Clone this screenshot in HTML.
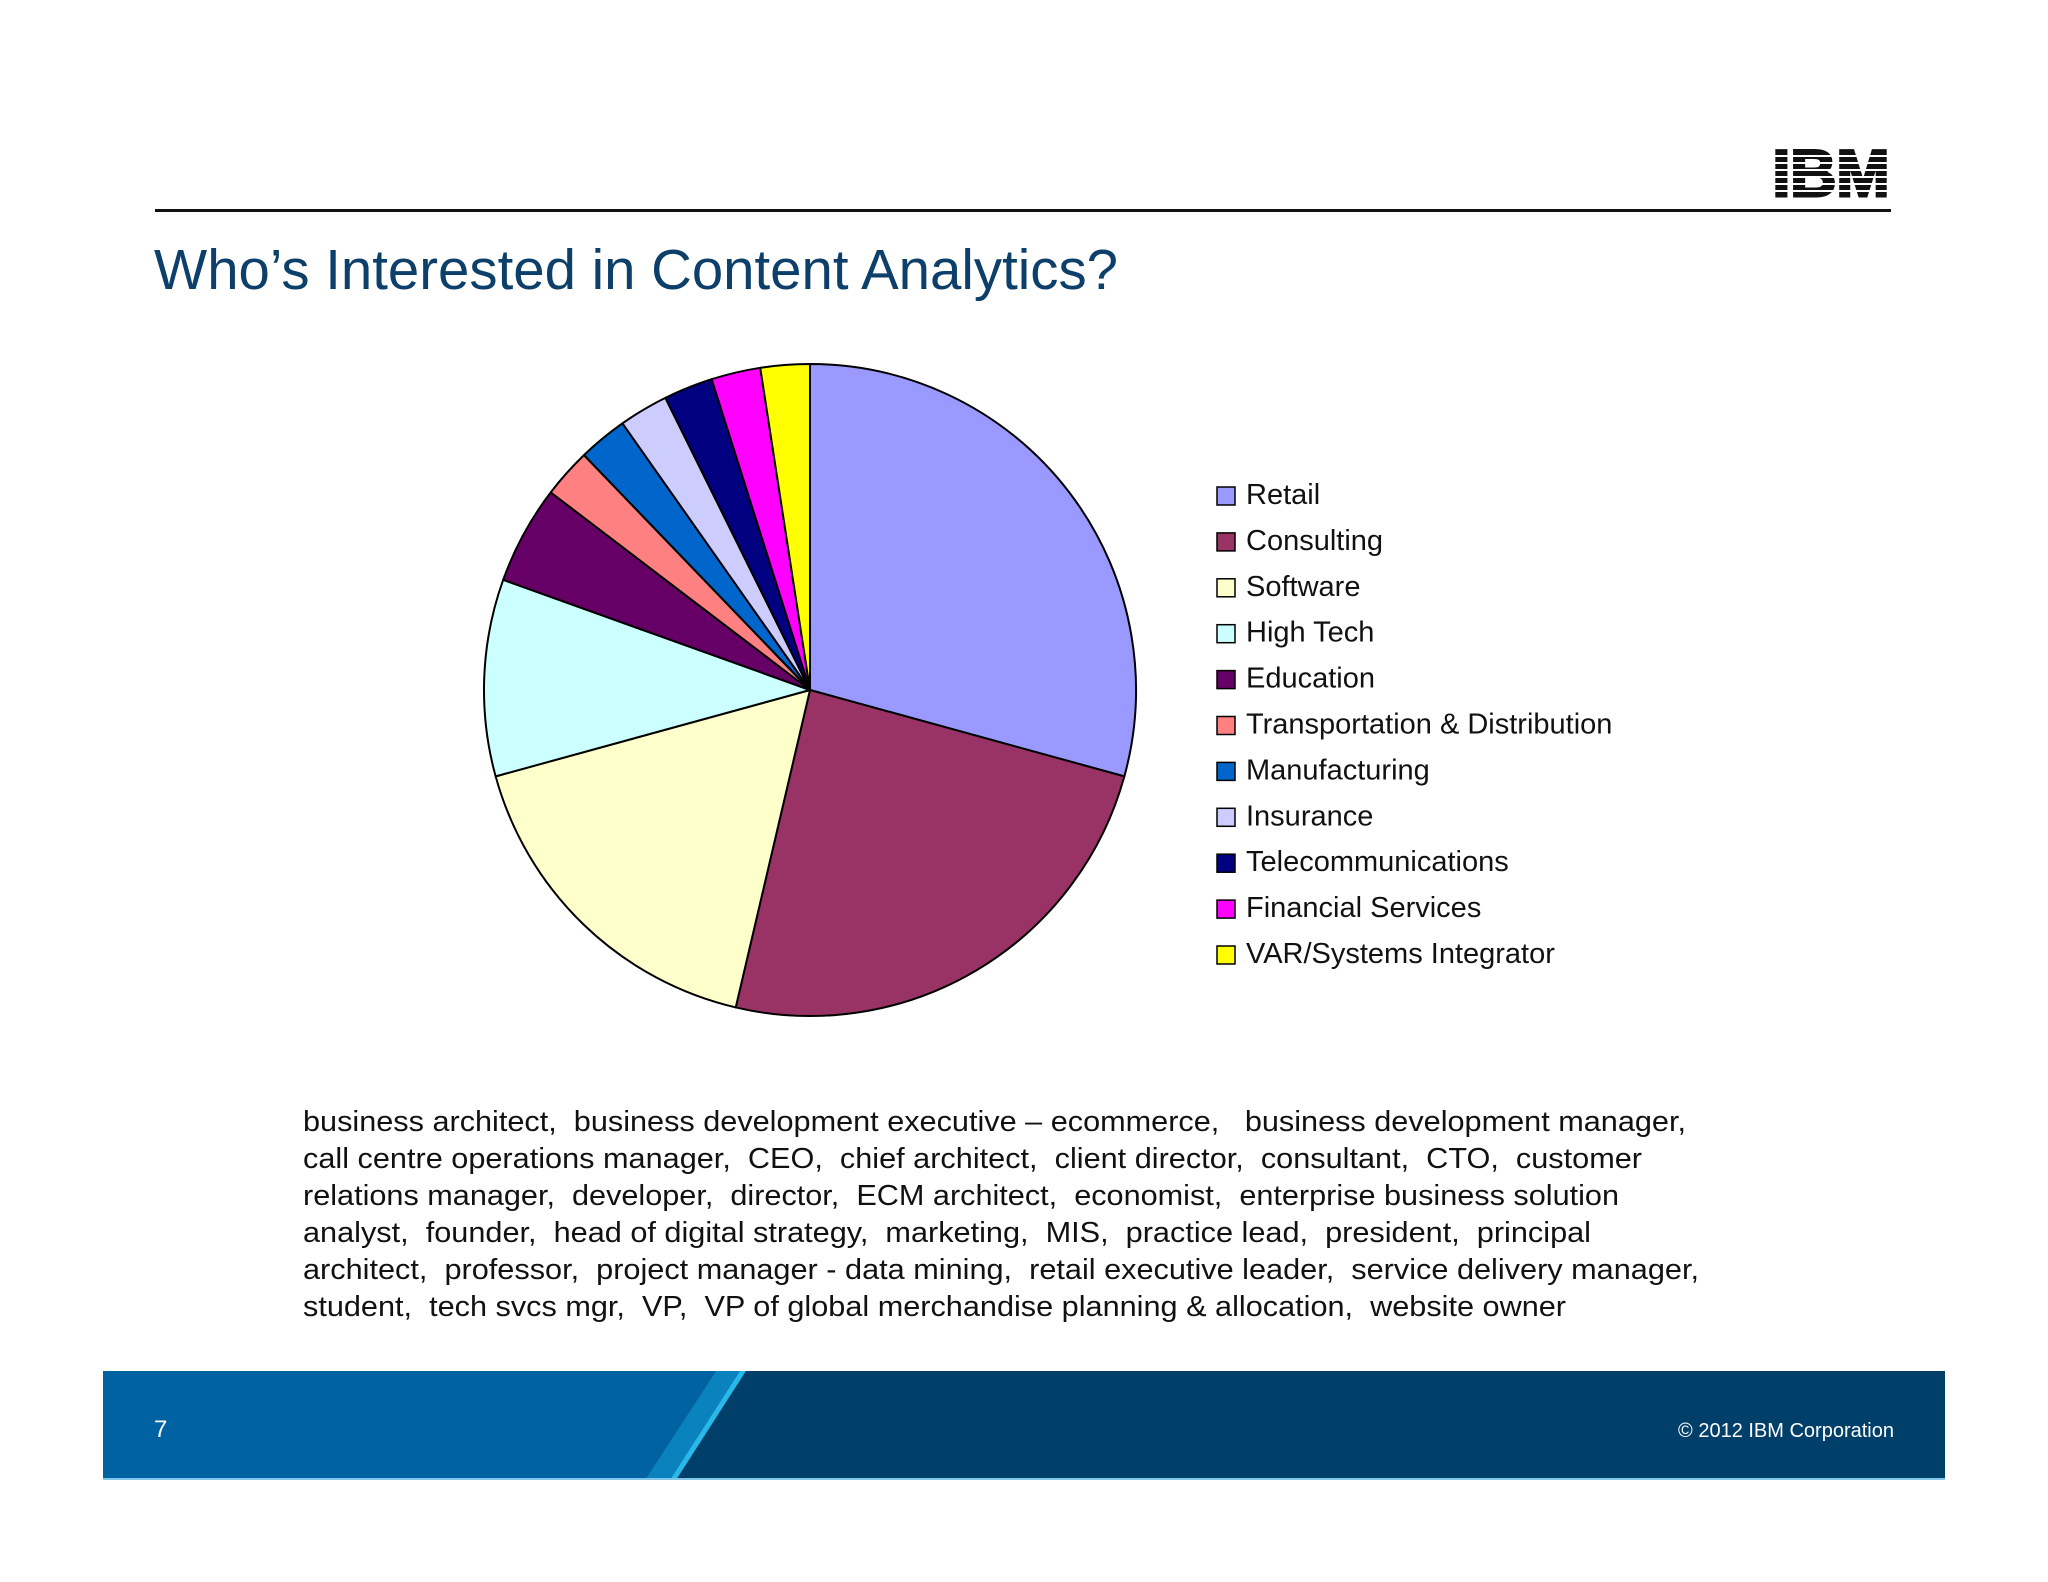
<!DOCTYPE html>
<html><head><meta charset="utf-8"><style>
html,body{margin:0;padding:0;background:#fff;}
svg{display:block;}
</style></head><body>
<svg width="2048" height="1582" viewBox="0 0 2048 1582" xmlns="http://www.w3.org/2000/svg" font-family="'Liberation Sans', Arial, sans-serif">
  <g>
    <text x="1831" y="196" font-size="66" font-weight="bold" text-anchor="middle" fill="#111" stroke="#111" stroke-width="3" textLength="117" lengthAdjust="spacingAndGlyphs">IBM</text>
    <g fill="#fff">
      <rect x="1765" y="155" width="135" height="2"/>
      <rect x="1765" y="162" width="135" height="2"/>
      <rect x="1765" y="169" width="135" height="2"/>
      <rect x="1765" y="176" width="135" height="2"/>
      <rect x="1765" y="183" width="135" height="2"/>
      <rect x="1765" y="190" width="135" height="2"/>
    </g>
  </g>
  <rect x="155" y="209" width="1736" height="3" fill="#111"/>
  <text x="154" y="289" font-size="57" fill="#0d3f6b" textLength="964" lengthAdjust="spacingAndGlyphs">Who’s Interested in Content Analytics?</text>

  <g id="pie"></g>
  <g id="legend"></g>

  <g font-size="29" fill="#111">
    <text x="303" y="1131" textLength="1383" lengthAdjust="spacingAndGlyphs" xml:space="preserve">business architect,  business development executive – ecommerce,   business development manager,</text>
    <text x="303" y="1168" textLength="1339" lengthAdjust="spacingAndGlyphs" xml:space="preserve">call centre operations manager,  CEO,  chief architect,  client director,  consultant,  CTO,  customer</text>
    <text x="303" y="1205" textLength="1316" lengthAdjust="spacingAndGlyphs" xml:space="preserve">relations manager,  developer,  director,  ECM architect,  economist,  enterprise business solution</text>
    <text x="303" y="1242" textLength="1288" lengthAdjust="spacingAndGlyphs" xml:space="preserve">analyst,  founder,  head of digital strategy,  marketing,  MIS,  practice lead,  president,  principal</text>
    <text x="303" y="1279" textLength="1396" lengthAdjust="spacingAndGlyphs" xml:space="preserve">architect,  professor,  project manager - data mining,  retail executive leader,  service delivery manager,</text>
    <text x="303" y="1316" textLength="1263" lengthAdjust="spacingAndGlyphs" xml:space="preserve">student,  tech svcs mgr,  VP,  VP of global merchandise planning &amp; allocation,  website owner</text>
  </g>

  <g>
    <rect x="103" y="1371" width="1842" height="109" fill="#003f6a"/>
    <polygon points="103,1371 716,1371 645,1480 103,1480" fill="#0062a0"/>
    <polygon points="716,1371 740,1371 670,1480 645,1480" fill="#0a82bd"/>
    <polygon points="740,1371 746,1371 676,1480 670,1480" fill="#2ab8ea"/>
    <rect x="103" y="1478" width="1842" height="2" fill="#7fc6e8"/>
    <text x="154" y="1437" font-size="24" fill="#fff">7</text>
    <text x="1894" y="1437" font-size="20" fill="#fff" text-anchor="end">© 2012 IBM Corporation</text>
  </g>
</svg>
<script>
const categories = ["Retail","Consulting","Software","High Tech","Education","Transportation & Distribution","Manufacturing","Insurance","Telecommunications","Financial Services","VAR/Systems Integrator"];
const values = [12,10,7,4,2,1,1,1,1,1,1];
const colors = ["#9999ff","#993366","#ffffcc","#ccffff","#660066","#ff8080","#0066cc","#ccccff","#000080","#ff00ff","#ffff00"];

const NS = "http://www.w3.org/2000/svg";
const cx = 810, cy = 690, r = 326;
const total = values.reduce((a,b)=>a+b,0);
function angleScale(v){ return v / total * Math.PI * 2; }
function pt(a){ return [cx + r*Math.sin(a), cy - r*Math.cos(a)]; }
const pie = document.getElementById('pie');
let acc = 0;
values.forEach((v,i)=>{
  const a0 = acc, a1 = acc + angleScale(v); acc = a1;
  const p0 = pt(a0), p1 = pt(a1);
  const large = (a1-a0) > Math.PI ? 1 : 0;
  const path = document.createElementNS(NS,'path');
  path.setAttribute('d', `M${cx},${cy} L${p0[0]},${p0[1]} A${r},${r} 0 ${large} 1 ${p1[0]},${p1[1]} Z`);
  path.setAttribute('fill', colors[i]);
  path.setAttribute('stroke', '#000');
  path.setAttribute('stroke-width', '2');
  path.setAttribute('stroke-linejoin', 'round');
  
  
  pie.appendChild(path);
});
const legend = document.getElementById('legend');
const lx = 1217, ly0 = 487, step = 45.9;
categories.forEach((c,i)=>{
  const g = document.createElementNS(NS,'g');
  
  
  const sq = document.createElementNS(NS,'rect');
  sq.setAttribute('x', lx); sq.setAttribute('y', ly0 + i*step);
  sq.setAttribute('width', 18); sq.setAttribute('height', 18);
  sq.setAttribute('fill', colors[i]); sq.setAttribute('stroke', '#000'); sq.setAttribute('stroke-width', '1.5');
  
  
  const t = document.createElementNS(NS,'text');
  t.setAttribute('x', 1246); t.setAttribute('y', ly0 + i*step + 17);
  t.setAttribute('font-size', '29'); t.setAttribute('fill', '#111');
  t.textContent = c;
  
  
  g.appendChild(sq); g.appendChild(t);
  legend.appendChild(g);
});
</script>
</body></html>
